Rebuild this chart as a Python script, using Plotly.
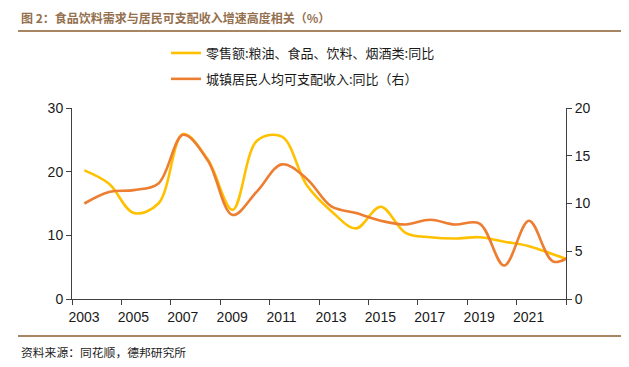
import plotly.graph_objects as go

# ---------------- data ----------------
years = list(range(2003, 2024))
retail_food_yoy = [20.2, 18.1, 13.5, 15.0, 25.9, 21.9, 14.0, 24.9, 25.5, 17.9,
                   13.8, 11.1, 14.5, 10.4, 9.7, 9.5, 9.7, 9.0, 8.3, 7.0, 5.6]
urban_income_yoy = [10.0, 11.2, 11.4, 12.1, 17.2, 14.5, 8.8, 11.3, 14.1, 12.6,
                    9.7, 9.0, 8.2, 7.8, 8.3, 7.8, 7.9, 3.5, 8.2, 3.9, 5.1]
tick_positions = [2002.5, 2004.5, 2006.5, 2008.5, 2010.5, 2012.5, 2014.5,
                  2016.5, 2018.5, 2020.5, 2022.5]
tick_labels = ["2003", "2005", "2007", "2009", "2011", "2013", "2015",
               "2017", "2019", "2021", ""]
name_retail = "零售额:粮油、食品、饮料、烟酒类:同比"
name_income = "城镇居民人均可支配收入:同比（右）"
title_text = "图 2：食品饮料需求与居民可支配收入增速高度相关（%）"
source_text = "资料来源：同花顺，德邦研究所"

# ---------------- layout geometry ----------------
# the page body adds an 8px offset; figure coordinates = page coords - 8
OFF = 8
W, H = 629 - OFF, 367 - OFF
L, T = 72 - OFF, 108 - OFF
PW, PH = 494, 191
R = W - L - PW
B = H - T - PH


def px(x):
    return (x - OFF - L) / PW


def py(y):
    return (H - B - (y - OFF)) / PH


CJK = "Noto Sans CJK SC"
AX_COLOR = "#404040"

fig = go.Figure()
fig.add_trace(go.Scatter(
    x=years, y=retail_food_yoy, name=name_retail, mode="lines",
    line=dict(color="#FFC000", width=2.6, shape="spline", smoothing=1.0),
    legendgroup="a", yaxis="y"))
fig.add_trace(go.Scatter(
    x=years, y=urban_income_yoy, name=name_income, mode="lines",
    line=dict(color="#ED7D31", width=2.6, shape="spline", smoothing=1.0),
    legendgroup="b", yaxis="y2"))

fig.update_layout(
    width=W, height=H,
    margin=dict(l=L, r=R, t=T, b=B, autoexpand=False),
    paper_bgcolor="white", plot_bgcolor="white",
    font=dict(family="Liberation Sans, Arial, sans-serif", size=14, color="#1a1a1a"),
    showlegend=True,
    legend=dict(
        x=px(166), y=py(38), xanchor="left", yanchor="top",
        font=dict(family=CJK, size=13, color="#1a1a1a"),
        bgcolor="rgba(0,0,0,0)", tracegroupgap=6, itemwidth=30,
    ),
    xaxis=dict(
        range=[2002.5, 2022.5], tickmode="array", tickvals=tick_positions,
        ticktext=tick_labels, ticklabelshift=12,
        showline=True, linecolor=AX_COLOR, linewidth=1,
        ticks="outside", ticklen=5, tickcolor=AX_COLOR,
        showgrid=False, zeroline=False,
    ),
    yaxis=dict(
        range=[0, 30], dtick=10, showline=True, linecolor=AX_COLOR, linewidth=1,
        ticks="outside", ticklen=5, tickcolor=AX_COLOR,
        showgrid=False, zeroline=False,
    ),
    yaxis2=dict(
        range=[0, 20], dtick=5, overlaying="y", side="right",
        showline=True, linecolor=AX_COLOR, linewidth=1,
        ticks="outside", ticklen=5, tickcolor=AX_COLOR,
        showgrid=False, zeroline=False,
    ),
)

fig.add_annotation(
    text="<b>" + title_text + "</b>", xref="paper", yref="paper",
    x=px(19), y=py(17), xanchor="left", yanchor="middle", showarrow=False,
    font=dict(family=CJK, size=12, color="#94704E"))
fig.add_annotation(
    text=source_text, xref="paper", yref="paper",
    x=px(19), y=py(351), xanchor="left", yanchor="middle", showarrow=False,
    font=dict(family=CJK, size=11.8, color="#222222"))

for yline in (31, 336):
    fig.add_shape(type="line", xref="paper", yref="paper",
                  x0=px(18), x1=px(624), y0=py(yline), y1=py(yline),
                  line=dict(color="#A88664", width=2))

fig.write_html("out.html")
